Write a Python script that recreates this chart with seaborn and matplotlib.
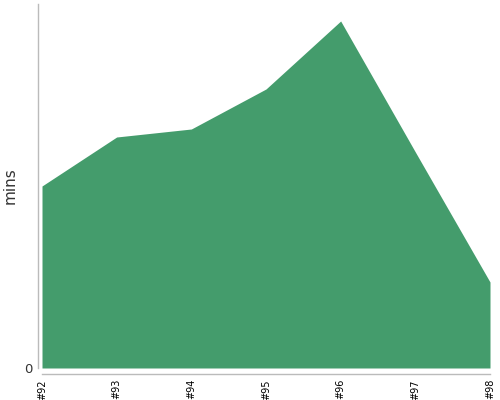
import numpy as np
import pandas as pd
import matplotlib
matplotlib.use('Agg')
import matplotlib.pyplot as plt
import seaborn as sns

# episodes and their length in minutes
episodes = ['#92', '#93', '#94', '#95', '#96', '#97', '#98']
mins = [45.5, 57.75, 59.75, 69.75, 86.75, 54.0, 21.5]

df = pd.DataFrame({'episode': episodes, 'mins': mins})
df['pos'] = np.arange(len(df))

sns.set_style('white')
fig = plt.figure(figsize=(5, 4), dpi=100)
ax = fig.add_axes([0.084, 0.08, 0.896, 0.91])

sns.lineplot(data=df, x='pos', y='mins', ax=ax, color='#449c6c', linewidth=0)
ax.fill_between(df['pos'], df['mins'], 0, color='#449c6c', linewidth=0)

ax.set_xlim(0, len(df) - 1)
ax.set_ylim(0, 91)
ax.set_xticks(df['pos'].tolist(), labels=episodes)
ax.set_yticks([0], labels=['0'])
ax.tick_params(axis='x', labelrotation=90, labelsize=7, labelcolor='black',
               length=3, pad=1)
ax.tick_params(axis='y', labelsize=9.5, labelcolor='#333333', length=3, pad=1)
ax.set_xlabel('')
ax.set_ylabel('mins', fontsize=11, color='#333333')
ax.yaxis.set_label_coords(-0.054, 0.5)

sns.despine(ax=ax)
ax.spines['left'].set_position(('outward', 3))
ax.spines['bottom'].set_position(('outward', 4))
for s in ['left', 'bottom']:
    ax.spines[s].set_color('#bbbbbb')
    ax.spines[s].set_linewidth(1)
ax.tick_params(axis='both', width=1, color='#bbbbbb')

fig.savefig('out.png', dpi=100)
